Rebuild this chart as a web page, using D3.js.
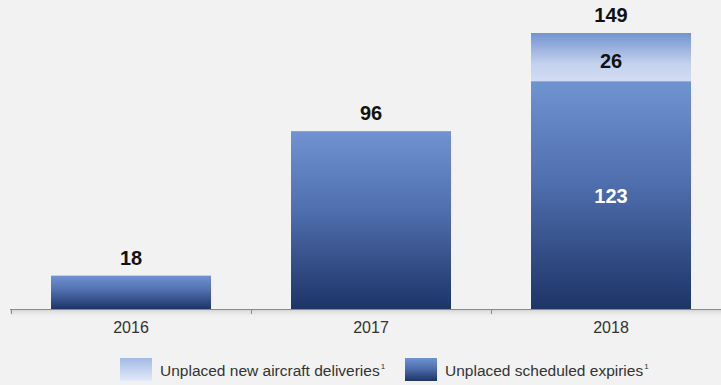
<!DOCTYPE html>
<html>
<head>
<meta charset="utf-8">
<script src="https://cdn.jsdelivr.net/npm/d3@7"></script>
<style>
  body { margin: 0; background: #f2f2f2; }
  text { font-family: "Liberation Sans", Arial, sans-serif; }
</style>
</head>
<body>
<div id="chart"></div>
<script>
// data
const years = ["2016", "2017", "2018"];
const expiries = [18, 96, 123];
const deliveries = [0, 0, 26];
const legendLabels = ["Unplaced new aircraft deliveries", "Unplaced scheduled expiries"];

const W = 721, H = 385;

const svg = d3.select("#chart").append("svg")
  .attr("width", W)
  .attr("height", H);

// gradients
const defs = svg.append("defs");
let gExp = defs.append("linearGradient").attr("id", "gExp")
  .attr("x1", 0).attr("y1", 0).attr("x2", 0).attr("y2", 1);
gExp.append("stop").attr("offset", "0%").attr("stop-color", "#7093d1");
gExp.append("stop").attr("offset", "45%").attr("stop-color", "#4f6eae");
gExp.append("stop").attr("offset", "100%").attr("stop-color", "#1d3466");

let gDel = defs.append("linearGradient").attr("id", "gDel")
  .attr("x1", 0).attr("y1", 0).attr("x2", 0).attr("y2", 1);
gDel.append("stop").attr("offset", "0%").attr("stop-color", "#7394d1");
gDel.append("stop").attr("offset", "65%").attr("stop-color", "#c4d2ee");
gDel.append("stop").attr("offset", "100%").attr("stop-color", "#d3ddf2");

let gLegDel = defs.append("linearGradient").attr("id", "gLegDel")
  .attr("x1", 0).attr("y1", 0).attr("x2", 0).attr("y2", 1);
gLegDel.append("stop").attr("offset", "0%").attr("stop-color", "#a3b9e6");
gLegDel.append("stop").attr("offset", "100%").attr("stop-color", "#e3eaf8");

let gShadow = defs.append("linearGradient").attr("id", "gShadow")
  .attr("x1", 0).attr("y1", 0).attr("x2", 0).attr("y2", 1);
gShadow.append("stop").attr("offset", "0%").attr("stop-color", "#c8c8c8").attr("stop-opacity", 0.8);
gShadow.append("stop").attr("offset", "100%").attr("stop-color", "#f2f2f2").attr("stop-opacity", 0);

// scales
let x = d3.scaleBand()
  .domain(years)
  .range([11, 731])
  .paddingInner(1 / 3)
  .paddingOuter(1 / 6);

let y = d3.scaleLinear()
  .domain([0, 149])
  .range([309, 33]);

// soft shadow under the axis
svg.append("rect")
  .attr("x", 10).attr("y", y(0)).attr("width", 711).attr("height", 10)
  .attr("fill", "url(#gShadow)");

// expiries bars
svg.append("g")
  .selectAll("rect")
  .data(years)
  .enter().append("rect")
  .attr("x", d => x(d))
  .attr("y", (d, i) => y(expiries[i]))
  .attr("width", x.bandwidth())
  .attr("height", (d, i) => y(0) - y(expiries[i]))
  .attr("fill", "url(#gExp)");

// deliveries bars (stacked on top)
svg.append("g")
  .selectAll("rect")
  .data(years.filter((d, i) => deliveries[i] > 0))
  .enter().append("rect")
  .attr("x", d => x(d))
  .attr("y", d => { let i = years.indexOf(d); return y(expiries[i] + deliveries[i]); })
  .attr("width", x.bandwidth())
  .attr("height", d => { let i = years.indexOf(d); return y(expiries[i]) - y(expiries[i] + deliveries[i]); })
  .attr("fill", "url(#gDel)");

// axis
let step = x.step();
svg.append("line")
  .attr("x1", 10).attr("x2", W)
  .attr("y1", y(0) + 0.5).attr("y2", y(0) + 0.5)
  .attr("stroke", "#8a8a8a").attr("stroke-width", 1);

let tickPos = years.map(d => x(d) - step * x.paddingInner() / 2);
svg.append("g")
  .selectAll("line")
  .data(tickPos)
  .enter().append("line")
  .attr("x1", d => Math.round(d) + 0.5).attr("x2", d => Math.round(d) + 0.5)
  .attr("y1", y(0)).attr("y2", y(0) + 5)
  .attr("stroke", "#8a8a8a");

svg.append("g")
  .selectAll("text")
  .data(years)
  .enter().append("text")
  .attr("x", d => x(d) + x.bandwidth() / 2)
  .attr("y", 333)
  .attr("text-anchor", "middle")
  .attr("font-size", 16)
  .attr("fill", "#333")
  .text(d => d);

// total labels
svg.append("g")
  .selectAll("text")
  .data(years)
  .enter().append("text")
  .attr("x", d => x(d) + x.bandwidth() / 2)
  .attr("y", (d, i) => y(expiries[i] + deliveries[i]) - 11)
  .attr("text-anchor", "middle")
  .attr("font-size", 20)
  .attr("font-weight", "bold")
  .attr("fill", "#111")
  .text((d, i) => expiries[i] + deliveries[i]);

// segment labels for 2018
let i18 = years.indexOf("2018");
svg.append("text")
  .attr("x", x("2018") + x.bandwidth() / 2)
  .attr("y", (y(expiries[i18]) + y(expiries[i18] + deliveries[i18])) / 2 + 11)
  .attr("text-anchor", "middle")
  .attr("font-size", 20)
  .attr("font-weight", "bold")
  .attr("fill", "#111")
  .text(deliveries[i18]);

svg.append("text")
  .attr("x", x("2018") + x.bandwidth() / 2)
  .attr("y", (y(0) + y(expiries[i18])) / 2 + 8)
  .attr("text-anchor", "middle")
  .attr("font-size", 20)
  .attr("font-weight", "bold")
  .attr("fill", "#fff")
  .text(expiries[i18]);

// legend
let legend = svg.append("g");
let items = [
  { label: legendLabels[0], fill: "url(#gLegDel)", x: 120 },
  { label: legendLabels[1], fill: "url(#gExp)", x: 405 }
];
items.forEach(it => {
  legend.append("rect")
    .attr("x", it.x).attr("y", 358)
    .attr("width", 32).attr("height", 23)
    .attr("fill", it.fill);
  let t = legend.append("text")
    .attr("x", it.x + 40).attr("y", 376)
    .attr("font-size", 15.5)
    .attr("fill", "#333")
    .text(it.label);
  t.append("tspan")
    .attr("font-size", 8)
    .attr("dx", 1)
    .attr("dy", -7)
    .text("1");
});
</script>
</body>
</html>
